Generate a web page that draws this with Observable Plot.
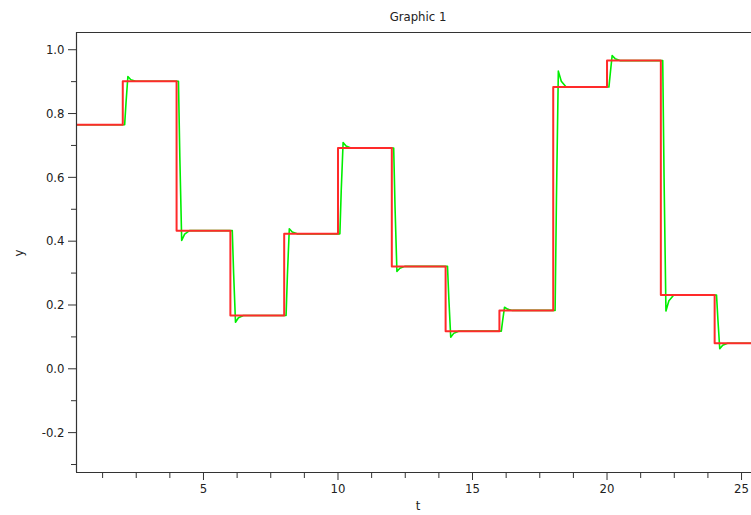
<!DOCTYPE html>
<html><head><meta charset="utf-8">
<script src="https://cdn.jsdelivr.net/npm/d3@7"></script>
<script src="https://cdn.jsdelivr.net/npm/@observablehq/plot@0.6"></script>
<style>
body{margin:0;background:#fff;}
#wrap{position:relative;width:751px;height:515px;overflow:hidden;font-family:"DejaVu Sans Condensed","Liberation Sans Narrow","DejaVu Sans",sans-serif;color:#222;background:#fff}
.lbl{position:absolute;font-size:13px;white-space:nowrap;transform:translate(-50%,-50%);line-height:1}
</style></head><body>
<div id="wrap"></div>
<script>
// Input (red): zero-order-hold levels, switching every 2 time units
const redT = [0.28, 2, 4, 6, 8, 10, 12, 14, 16, 18, 20, 22, 24, 25.4];
const redY = [0.765, 0.901, 0.433, 0.167, 0.423, 0.692, 0.321, 0.118, 0.183, 0.883, 0.966, 0.231, 0.080, 0.080];

// Response (green)
const greenT = [0.28,
  2.07, 2.12, 2.19, 2.30, 2.48,
  4.07, 4.12, 4.19, 4.30, 4.48,
  6.07, 6.12, 6.19, 6.30, 6.48,
  8.07, 8.12, 8.19, 8.30, 8.48,
  10.07, 10.12, 10.19, 10.30, 10.48,
  12.07, 12.12, 12.19, 12.30, 12.48,
  14.07, 14.12, 14.19, 14.30, 14.48,
  16.07, 16.12, 16.19, 16.30, 16.48,
  18.07, 18.12, 18.19, 18.30, 18.48,
  20.07, 20.12, 20.19, 20.30, 20.48,
  22.07, 22.12, 22.19, 22.30, 22.48,
  24.07, 24.12, 24.19, 24.30, 24.48,
  25.4];
const greenY = [0.765,
  0.765, 0.833, 0.916, 0.906, 0.901,
  0.901, 0.667, 0.402, 0.422, 0.433,
  0.433, 0.300, 0.146, 0.160, 0.167,
  0.167, 0.295, 0.439, 0.429, 0.423,
  0.423, 0.558, 0.709, 0.698, 0.692,
  0.692, 0.507, 0.305, 0.315, 0.321,
  0.321, 0.220, 0.099, 0.111, 0.118,
  0.118, 0.151, 0.193, 0.187, 0.183,
  0.183, 0.533, 0.933, 0.901, 0.883,
  0.883, 0.925, 0.982, 0.972, 0.966,
  0.966, 0.599, 0.181, 0.213, 0.231,
  0.231, 0.156, 0.063, 0.074, 0.080,
  0.080];

const xMajor = [5, 10, 15, 20, 25];
const xMinor = [1.25, 2.5, 3.75, 6.25, 7.5, 8.75, 11.25, 12.5, 13.75, 16.25, 17.5, 18.75, 21.25, 22.5, 23.75];
const yMajor = [-0.2, 0.0, 0.2, 0.4, 0.6, 0.8, 1.0];
const yMinor = [-0.3, -0.1, 0.1, 0.3, 0.5, 0.7, 0.9];

const xDomain = [0.28, 25.37];
const yDomain = [-0.325, 1.054];

const red = redT.map((t, i) => ({t, v: redY[i]}));
const green = greenT.map((t, i) => ({t, v: greenY[i]}));

const fontFam = '"DejaVu Sans Condensed","Liberation Sans Narrow","DejaVu Sans",sans-serif';

const chart = Plot.plot({
  width: 751, height: 515,
  marginLeft: 76, marginRight: 0, marginTop: 32, marginBottom: 43,
  x: {domain: xDomain, label: null},
  y: {domain: yDomain, label: null},
  style: {fontFamily: fontFam, fontSize: "13px", color: "#222", background: "white"},
  marks: [
    Plot.line(green, {x: "t", y: "v", stroke: "#00ee00", strokeWidth: 1.6, clip: true}),
    Plot.line(red, {x: "t", y: "v", curve: "step-after", stroke: "#ff2a2a", strokeWidth: 2, clip: true}),
    Plot.ruleY([yDomain[1]], {stroke: "#333", strokeWidth: 1.2}),
    Plot.ruleY([yDomain[0]], {stroke: "#333", strokeWidth: 1.2}),
    Plot.ruleX([xDomain[0]], {stroke: "#333", strokeWidth: 1.2}),
    Plot.axisY(yMajor, {tickSize: 8, tickPadding: 4, tickFormat: d => d.toFixed(1), label: null, stroke: "#333"}),
    Plot.axisY(yMinor, {tickSize: 5, tickFormat: () => "", label: null, stroke: "#333"}),
    Plot.axisX(xMajor, {tickSize: 8, tickPadding: 3, tickFormat: d => String(d), label: null, stroke: "#333"}),
    Plot.axisX(xMinor, {tickSize: 6, tickFormat: () => "", label: null, stroke: "#333"})
  ]
});

const wrap = document.getElementById("wrap");
wrap.appendChild(chart);
function addLabel(text, x, y, rot) {
  const d = document.createElement("div");
  d.className = "lbl";
  d.textContent = text;
  d.style.left = x + "px";
  d.style.top = y + "px";
  if (rot) d.style.transform = "translate(-50%,-50%) rotate(-90deg)";
  wrap.appendChild(d);
}
addLabel("Graphic 1", 418, 16);
addLabel("y", 18, 253, true);
addLabel("t", 418, 505);
</script></body></html>
